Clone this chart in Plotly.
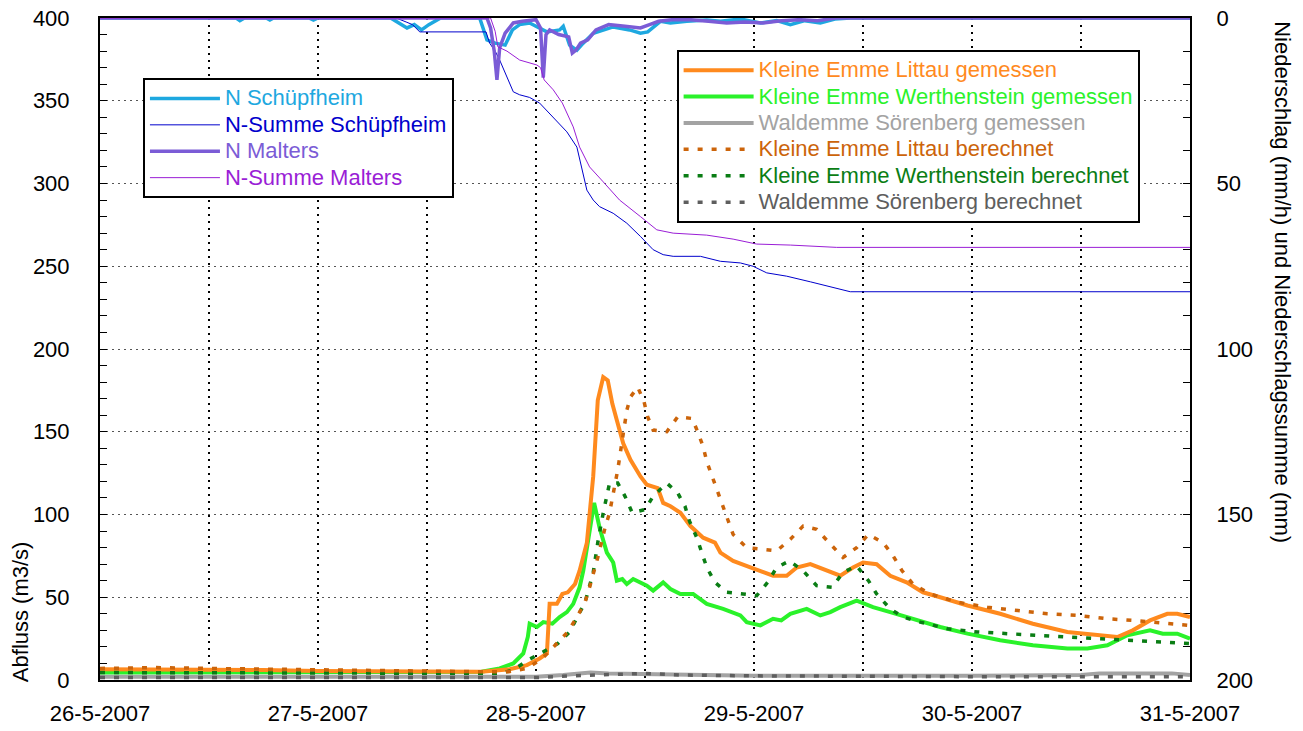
import pandas as pd
import plotly.graph_objects as go

BASE = pd.Timestamp("2007-05-26 00:00")

# ---------------- data (hours since 26-5-2007 00:00) ----------------
t_littau_gem = [0, 6, 12, 18, 24, 30, 36, 42, 45.1, 47.0, 48.4, 49.2, 49.5, 50.3, 50.9, 51.5, 52.3, 52.8,
                53.6, 54.3, 54.8, 55.4, 55.9, 56.4, 56.9, 57.6, 58.4, 59.5, 60.2, 61.4, 62.0, 62.8, 63.9,
                65.0, 66.4, 67.7, 68.3, 69.7, 71.6, 73.0, 74.1, 75.6, 76.7, 78.2, 79.6, 81.5, 82.9, 84.0,
                85.5, 87.0, 88.8, 90.6, 92.5, 95.5, 99.1, 102.7, 106.5, 110.1, 112.0, 113.7, 115.6, 117.5,
                118.6, 120]
q_littau_gem = [6.5, 6.5, 6, 6, 5.5, 5.5, 5, 5, 6.5, 9, 13, 16, 46, 46, 52, 53, 58, 66,
                83, 123, 169, 183, 181, 167, 157, 143, 133, 123, 118, 116, 107, 105, 101,
                93, 86, 83, 77, 72, 68, 65, 63, 63, 68, 70, 67, 63, 68, 71,
                70, 63, 59, 53, 50, 45, 40, 34, 29, 27, 26, 30, 36, 40,
                40, 38]

t_werth_gem = [0, 12, 24, 36, 42, 44.0, 45.5, 46.6, 47.1, 47.3, 48.1, 48.8, 49.8, 50.6, 51.4, 52.1, 52.8,
               53.2, 53.6, 54.4, 55.0, 55.8, 56.5, 56.9, 57.5, 58.0, 58.7, 59.5, 60.2, 60.9, 62.0, 62.8,
               63.9, 65.3, 66.8, 68.6, 70.5, 71.2, 72.7, 74.1, 75.0, 76.0, 77.0, 77.8, 79.3, 80.4, 81.5,
               82.5, 83.3, 84.2, 85.1, 87.0, 88.8, 90.6, 92.5, 95.5, 99.1, 102.7, 106.5, 108.7, 110.9,
               113.1, 115.6, 117.0, 118.6, 120]
q_werth_gem = [4.5, 4.5, 4.5, 4.5, 5, 7, 10, 16, 26, 34, 32, 35, 34, 38, 41, 46, 56,
               66, 80, 107, 92, 77, 71, 60, 61, 58, 61, 59, 57, 54, 59, 55,
               52, 52, 46, 43, 39, 35, 33, 37, 36, 40, 42, 43, 39, 41, 44,
               46, 48, 46, 44, 41, 38, 35, 32, 28, 24, 21, 19, 19, 21,
               27, 30, 28, 28, 25]

t_wald_gem = [0, 24, 48, 51, 54, 56, 60, 66, 72, 96, 108, 110, 118, 120]
q_wald_gem = [2, 2, 2, 3, 4.5, 4, 3.5, 3, 2.5, 2.5, 3, 4, 4, 3]

t_littau_ber = [0, 6, 12, 18, 24, 30, 36, 42, 45, 47.0, 48.7, 50.3, 51.5, 52.5, 53.4, 53.9, 54.8, 55.6,
                56.1, 57.0, 57.5, 58.0, 58.4, 59.2, 59.9, 60.3, 60.9, 62.4, 63.6, 65.2, 65.8, 66.4, 66.8,
                67.4, 67.9, 68.5, 69.7, 71.2, 72.9, 74.5, 76.0, 77.4, 78.9, 80.4, 81.8, 83.3, 84.6, 86.2,
                87.2, 88.3, 89.5, 91.4, 94.4, 97.7, 101.0, 104.3, 107.6, 110.9, 113.7, 117.5, 120]
q_littau_ber = [7, 7.5, 7, 6.5, 6, 5.5, 5.5, 5, 5, 7, 13, 22, 29, 38, 47, 56, 74, 92,
                101, 127, 145, 163, 171, 177, 168, 159, 151, 150, 159, 158, 150, 141, 132,
                123, 114, 105, 88, 80, 79, 78, 85, 93, 91, 82, 74, 80, 88, 83,
                76, 66, 58, 52, 47, 44, 42, 40, 39, 37, 36, 34, 33]

t_werth_ber = [0, 12, 24, 36, 44, 45.5, 47.1, 48.8, 50.4, 51.7, 52.6, 53.4, 53.9, 54.3, 54.8, 55.4, 56.1,
               57.0, 57.8, 58.6, 60.0, 60.9, 62.4, 63.6, 64.4, 64.9, 65.7, 66.3, 66.8, 67.7, 69.0, 70.8,
               72.3, 73.5, 74.5, 75.9, 77.4, 78.9, 80.6, 81.8, 83.3, 84.6, 85.5, 87.0, 88.4, 90.3, 91.7,
               93.3, 96.6, 99.9, 103.2, 106.5, 109.3, 112.6, 115.9, 119.2, 120]
q_werth_ber = [4.5, 4.5, 4, 4, 4, 6, 12, 17, 22, 29, 39, 47, 57, 65, 83, 101, 119,
               119, 111, 101, 103, 111, 119, 113, 105, 96, 86, 77, 68, 59, 53, 52,
               51, 59, 68, 72, 66, 57, 56, 65, 69, 60, 52, 43, 38, 35, 33,
               31, 29, 28, 27, 26, 25, 24, 23, 22, 22]

t_wald_ber = [0, 24, 48, 52, 56, 60, 64, 72, 96, 120]
q_wald_ber = [1.5, 1.5, 1.5, 2.5, 3.5, 4, 3, 2.5, 2, 2]

t_n_schuepf = [0, 15.0, 15.4, 15.9, 18.3, 18.7, 19.1, 23.0, 23.5, 24.0, 32.0, 33.0, 33.8, 34.6, 35.4,
               36.2, 36.8, 37.5, 41.8, 42.6, 43.5, 44.6, 45.4, 46.2, 47.3, 49.2, 50.6, 51.0, 51.7, 52.5,
               53.2, 54.3, 56.5, 58.3, 59.5, 60.3, 61.7, 62.8, 64.6, 66.8, 68.3, 70.5, 72.7, 74.5, 76.0,
               77.6, 79.3, 80.9, 82.6, 120]
n_schuepf = [0, 0, 0.8, 0, 0, 0.6, 0, 0, 0.6, 0, 0, 1.5, 3, 2, 3.6,
             2, 1, 0, 0, 6.6, 7.6, 8.2, 3.6, 2, 1.5, 4.2, 3.6, 2.5, 8.2, 9.7,
             7.6, 4.6, 2.7, 3.6, 4.6, 4.2, 1, 1.5, 1, 0.6, 1, 0.3, 1.5, 0.8, 2,
             0.8, 1.5, 0.3, 0, 0]

t_n_malters = [0, 42.6, 43.0, 43.4, 43.7, 44.0, 44.6, 45.5, 46.5, 48.0, 48.5, 48.8, 49.1, 49.5, 50.5,
               51.6, 52.0, 52.4, 52.9, 53.7, 54.6, 56.0, 57.8, 59.5, 60.5, 61.5, 63.0, 65.0, 67.0, 69.0,
               71.0, 73.0, 75.0, 77.0, 79.0, 81.0, 120]
n_malters = [0, 0, 3, 10, 18.7, 9, 4.6, 1.5, 1, 0.5, 3, 18, 5, 3.6, 5,
             5.7, 10.6, 9.7, 7.6, 6.6, 3.6, 2, 2.5, 3, 2, 1, 0.5, 0.5, 1, 1.5,
             1.2, 1.5, 0.8, 0.5, 0.8, 0, 0]

t_sum_schuepf = [0, 32.6, 33.7, 34.4, 35.2, 42.5, 42.9, 43.5, 44.0, 44.8, 45.5, 46.2, 47.3, 48.4, 49.9,
                 51.4, 52.5, 53.0, 53.6, 54.3, 55.0, 56.5, 58.0, 59.5, 60.9, 62.0, 63.1, 66.1, 68.3, 70.5,
                 71.9, 73.4, 75.6, 78.2, 80.0, 81.5, 82.6, 120]
sum_schuepf = [0, 0, 1.2, 2, 4.2, 4.2, 7.6, 10, 12.7, 17.8, 22.3, 23.2, 24, 25.7, 29.9,
               34.4, 39, 45, 52, 55, 57, 59, 62, 66, 70, 71.5, 72, 72, 73.5, 74,
               75, 77, 78, 79.7, 81, 82, 82.7, 82.7]

t_sum_malters = [0, 43.0, 43.5, 43.8, 44.8, 46.2, 48.1, 48.5, 48.9, 49.9, 50.9, 52.1, 52.8, 53.9, 55.4,
                 57.2, 59.5, 61.3, 63.1, 66.8, 69.7, 72.3, 76.0, 79.6, 81.1, 120]
sum_malters = [0, 0, 4, 8.7, 10, 12.7, 14.2, 15, 18.7, 21.7, 25.7, 32.9, 39, 45, 49.5,
               55, 60, 64, 65, 65.6, 66.8, 68.3, 68.6, 69, 69.3, 69.3]

day_labels = ["26-5-2007", "27-5-2007", "28-5-2007", "29-5-2007", "30-5-2007", "31-5-2007"]


def T(hours):
    return [BASE + pd.Timedelta(hours=h) for h in hours]


def lbl(text, color):
    return f'<span style="color:{color};font-size:22px">{text}</span>'


FONT = "Liberation Sans, Arial, Helvetica, sans-serif"
DOT = "5px,9px"

fig = go.Figure()

# discharge (left axis)
series_q = [
    (t_wald_gem, q_wald_gem, "Waldemme Sörenberg gemessen", "#A3A3A3", 4, "solid", 3),
    (t_wald_ber, q_wald_ber, "Waldemme Sörenberg berechnet", "#5E5E5E", 3.5, DOT, 6),
    (t_werth_gem, q_werth_gem, "Kleine Emme Werthenstein gemessen", "#2AF22A", 4, "solid", 2),
    (t_littau_gem, q_littau_gem, "Kleine Emme Littau gemessen", "#FF8A1E", 4, "solid", 1),
    (t_werth_ber, q_werth_ber, "Kleine Emme Werthenstein berechnet", "#0A7D14", 3.5, DOT, 5),
    (t_littau_ber, q_littau_ber, "Kleine Emme Littau berechnet", "#CC640A", 3.5, DOT, 4),
]
for tt, vv, name, col, w, dash, rank in series_q:
    fig.add_trace(go.Scatter(x=T(tt), y=vv, mode="lines", name=lbl(name, col),
                             line=dict(color=col, width=w, dash=dash),
                             legend="legend2", legendrank=rank, yaxis="y"))

# precipitation (right axis)
series_n = [
    (t_n_schuepf, n_schuepf, "N Schüpfheim", "#1EA8E0", 3.5, 1),
    (t_sum_schuepf, sum_schuepf, "N-Summe Schüpfheim", "#0000CC", 1, 2),
    (t_n_malters, n_malters, "N Malters", "#7B5CD6", 3.5, 3),
    (t_sum_malters, sum_malters, "N-Summe Malters", "#9A1ED6", 1, 4),
]
for tt, vv, name, col, w, rank in series_n:
    fig.add_trace(go.Scatter(x=T(tt), y=vv, mode="lines", name=lbl(name, col),
                             line=dict(color=col, width=w),
                             legend="legend", legendrank=rank, yaxis="y2"))

tickvals = T(list(range(0, 121, 12)))
ticktext = [day_labels[i // 2] if i % 2 == 0 else "" for i in range(11)]

fig.update_layout(
    width=1303, height=731,
    margin=dict(l=100, r=113, t=18, b=51),
    paper_bgcolor="white", plot_bgcolor="white",
    font=dict(family=FONT, size=22, color="black"),
    xaxis=dict(type="date", range=[BASE, BASE + pd.Timedelta(hours=120)],
               tickvals=tickvals, ticktext=ticktext, ticks="",
               showgrid=True, gridcolor="black", gridwidth=1.5, griddash="2px,5px",
               showline=True, linecolor="black", linewidth=2, mirror=True,
               zeroline=False, ticklabelstandoff=13, layer="below traces", automargin=False),
    yaxis=dict(range=[0, 400], tickvals=list(range(0, 401, 50)),
               ticks="inside", ticklen=7, tickcolor="black", tickwidth=1,
               minor=dict(dtick=10, ticks="inside", ticklen=7, tickcolor="black", showgrid=False),
               showgrid=True, gridcolor="#555555", gridwidth=1.2, griddash="2px,4px",
               showline=True, linecolor="black", linewidth=2, mirror=True,
               zeroline=False, ticklabelstandoff=24, layer="below traces", automargin=False),
    yaxis2=dict(overlaying="y", side="right", range=[200, 0],
                tickvals=list(range(0, 201, 50)),
                ticks="inside", ticklen=7, tickcolor="black", tickwidth=1,
                minor=dict(dtick=10, ticks="inside", ticklen=7, tickcolor="black", showgrid=False),
                showgrid=False, zeroline=False,
                showline=True, linecolor="black", linewidth=2,
                ticklabelstandoff=20, layer="below traces", automargin=False),
    legend=dict(x=0.0394, y=0.909, xanchor="left", yanchor="top",
                bgcolor="white", bordercolor="black", borderwidth=2,
                font=dict(family=FONT, size=18), itemwidth=70, traceorder="normal"),
    legend2=dict(x=0.529, y=0.9517, xanchor="left", yanchor="top",
                 bgcolor="white", bordercolor="black", borderwidth=2,
                 font=dict(family=FONT, size=18), itemwidth=70, traceorder="normal"),
    showlegend=True,
    annotations=[
        dict(text="Abfluss (m3/s)", xref="paper", yref="paper", x=-0.0734, y=0.104,
             textangle=-90, showarrow=False, font=dict(size=22), xanchor="center", yanchor="middle"),
        dict(text="Niederschlag (mm/h) und Niederschlagssumme (mm)", xref="paper", yref="paper",
             x=1.0853, y=0.601, textangle=90, showarrow=False, font=dict(size=22),
             xanchor="center", yanchor="middle"),
    ],
)

fig.write_html("out.html", config={"displayModeBar": False},
               post_script="document.body.style.margin='0px';")
